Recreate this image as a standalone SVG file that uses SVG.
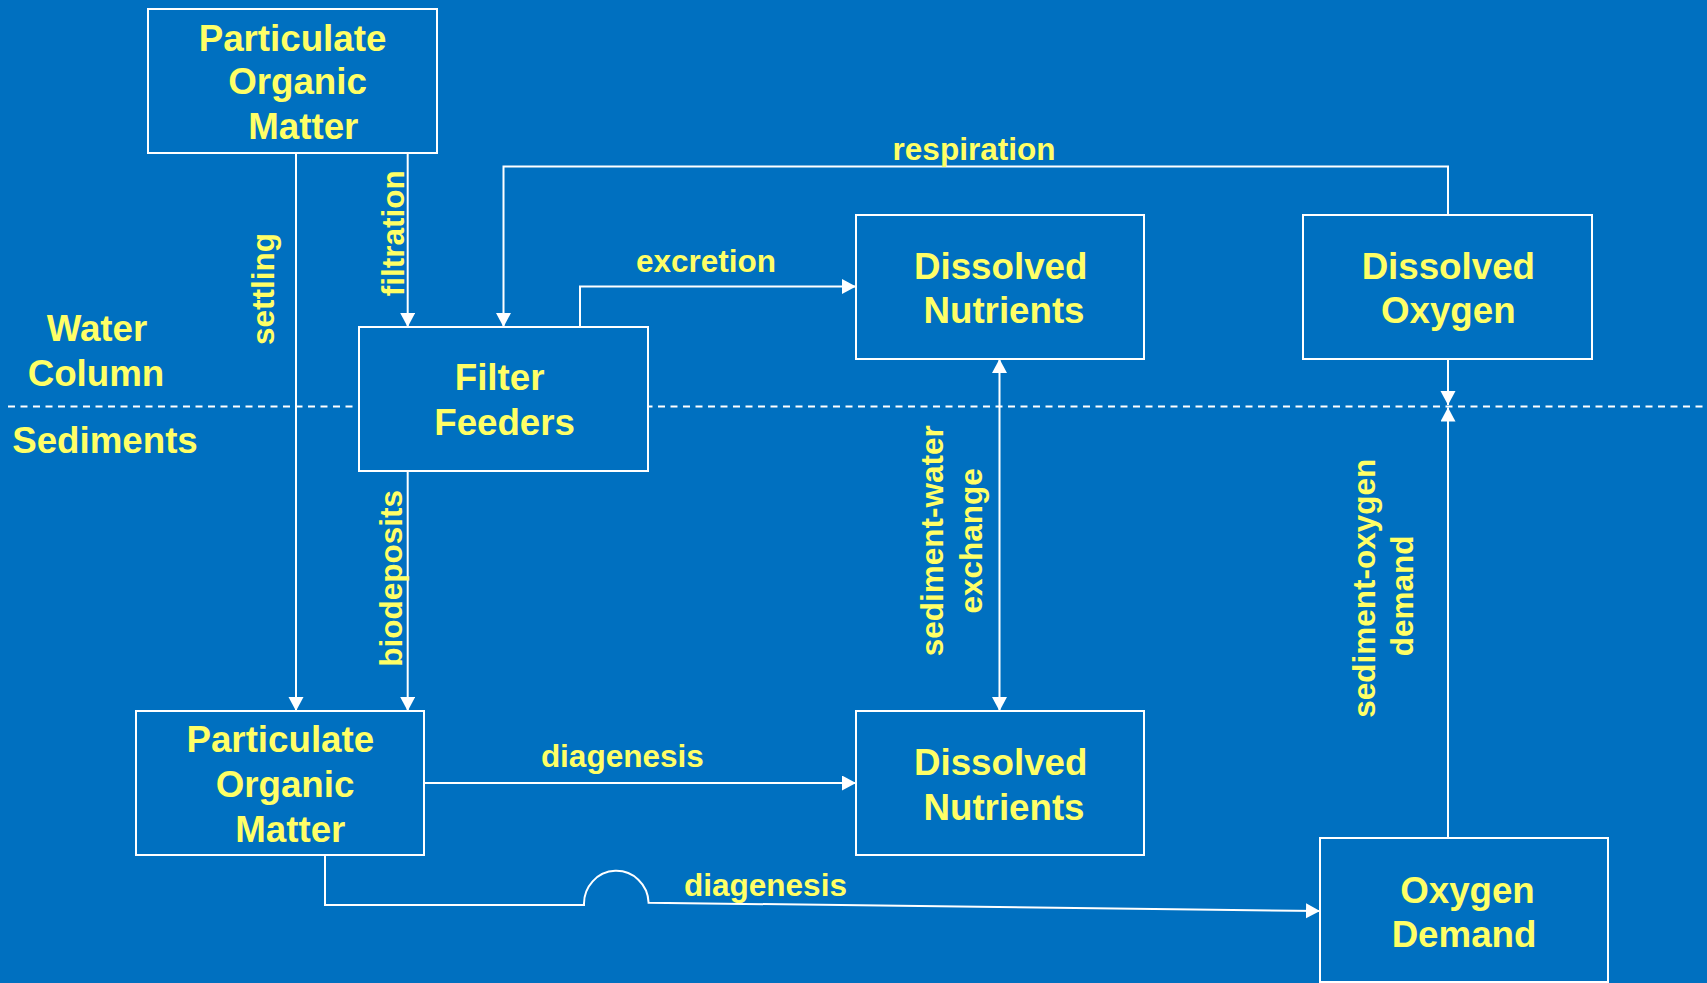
<svg xmlns="http://www.w3.org/2000/svg" width="1707" height="983" viewBox="0 0 1707 983">
<style>
.box{fill:#0070C0;stroke:#FFFFFF;stroke-width:2}
.t{font-family:"Liberation Sans",Arial,sans-serif;font-weight:bold;font-size:36.7px;fill:#FFFF66;text-anchor:middle}
.l{font-family:"Liberation Sans",Arial,sans-serif;font-weight:bold;font-size:31.5px;fill:#FFFF66;text-anchor:middle}
.c{fill:none;stroke:#FFFFFF;stroke-width:2}
</style>
<defs>
<marker id="ah" markerUnits="userSpaceOnUse" markerWidth="16" markerHeight="16" refX="14" refY="7.5" orient="auto-start-reverse">
<path d="M0,0 L14,7.5 L0,15 z" fill="#FFFFFF"/>
</marker>
</defs>
<rect x="0" y="0" width="1707" height="983" fill="#0070C0"/>
<line x1="8" y1="406.5" x2="1707" y2="406.5" stroke="#FFFFFF" stroke-width="2" stroke-dasharray="7 5.5"/>
<g id="connectors">
<path class="c" d="M296,153 V711" marker-end="url(#ah)"/>
<path class="c" d="M407.7,153 V327" marker-end="url(#ah)"/>
<path class="c" d="M407.7,471 V711" marker-end="url(#ah)"/>
<path class="c" d="M1448,215 V166.5 H503.5 V327" marker-end="url(#ah)"/>
<path class="c" d="M580,327 V286.5 H856" marker-end="url(#ah)"/>
<path class="c" d="M999.5,359 V711" marker-start="url(#ah)" marker-end="url(#ah)"/>
<path class="c" d="M1448,359 V405" marker-end="url(#ah)"/>
<path class="c" d="M1448,838 V407.5" marker-end="url(#ah)"/>
<path class="c" d="M424,783 H856" marker-end="url(#ah)"/>
<path class="c" d="M325,855 V905 H584 A32.3,33 0 0 1 648.6,902.7 L1320,911" marker-end="url(#ah)"/>
<text class="l" x="974" y="159.5">respiration</text>
<text class="l" x="706" y="272">excretion</text>
<text class="l" x="622.3" y="767">diagenesis</text>
<text class="l" x="765.5" y="895.5">diagenesis</text>
<text class="l" transform="translate(274,289) rotate(-90)">settling</text>
<text class="l" transform="translate(404,233.3) rotate(-90)">filtration</text>
<text class="l" transform="translate(402,578.3) rotate(-90)">biodeposits</text>
<text class="l" transform="translate(942.7,540.8) rotate(-90)">sediment-water</text>
<text class="l" transform="translate(982,540.8) rotate(-90)">exchange</text>
<text class="l" transform="translate(1375,588.3) rotate(-90)">sediment-oxygen</text>
<text class="l" transform="translate(1413,595.8) rotate(-90)">demand</text>
</g>
<g id="zone-labels">
<text class="t" x="97" y="341">Water</text>
<text class="t" x="96" y="386">Column</text>
<text class="t" x="105" y="453">Sediments</text>
</g>
<g id="pom-water">
<rect class="box" x="148" y="9" width="289" height="144"/>
<text class="t" x="292.5" y="50.5">Particulate</text>
<text class="t" x="297.5" y="94">Organic</text>
<text class="t" x="303.3" y="138.5">Matter</text>
</g>
<g id="filter-feeders">
<rect class="box" x="359" y="327" width="289" height="144"/>
<text class="t" x="499.6" y="390">Filter</text>
<text class="t" x="504.6" y="435">Feeders</text>
</g>
<g id="dn-water">
<rect class="box" x="856" y="215" width="288" height="144"/>
<text class="t" x="1000.7" y="278.5">Dissolved</text>
<text class="t" x="1004" y="323">Nutrients</text>
</g>
<g id="do-water">
<rect class="box" x="1303" y="215" width="289" height="144"/>
<text class="t" x="1448.3" y="278.5">Dissolved</text>
<text class="t" x="1448.3" y="322.5">Oxygen</text>
</g>
<g id="pom-sed">
<rect class="box" x="136" y="711" width="288" height="144"/>
<text class="t" x="280.3" y="752">Particulate</text>
<text class="t" x="285" y="796.5">Organic</text>
<text class="t" x="290.3" y="842">Matter</text>
</g>
<g id="dn-sed">
<rect class="box" x="856" y="711" width="288" height="144"/>
<text class="t" x="1000.7" y="775">Dissolved</text>
<text class="t" x="1004" y="819.5">Nutrients</text>
</g>
<g id="oxygen-demand">
<rect class="box" x="1320" y="838" width="288" height="144"/>
<text class="t" x="1467.5" y="902.5">Oxygen</text>
<text class="t" x="1464" y="946.5">Demand</text>
</g>
</svg>
